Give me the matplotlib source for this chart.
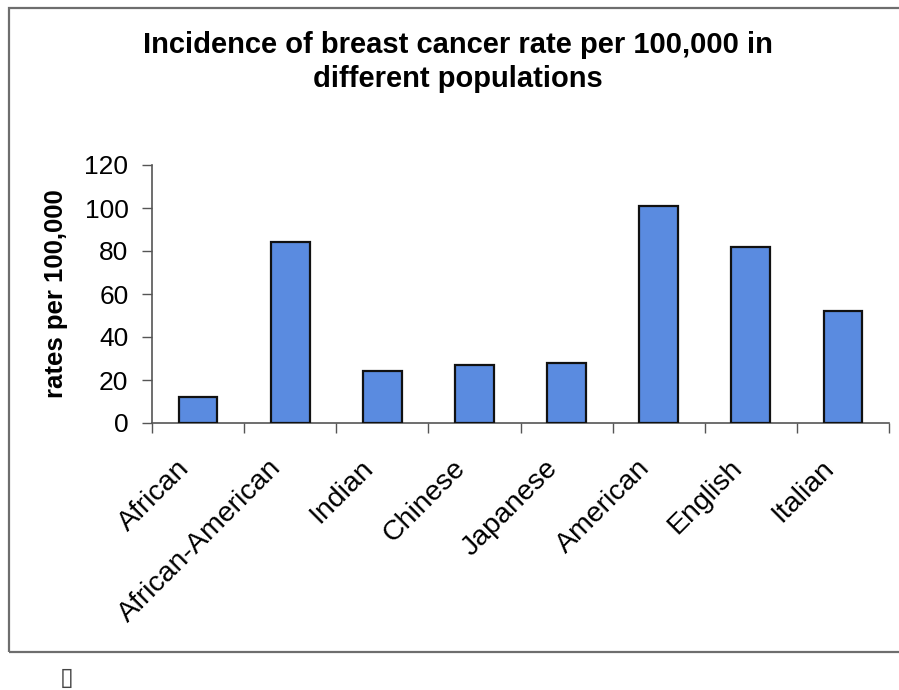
import matplotlib
matplotlib.use("Agg")
from matplotlib import pyplot as plt
from matplotlib.patches import Rectangle
import matplotlib.transforms as mtransforms
import numpy as np

# datos
poblaciones = ["African", "African-American", "Indian", "Chinese",
               "Japanese", "American", "English", "Italian"]
tasas = [12, 84, 24, 27, 28, 101, 82, 52]
yticks = [0, 20, 40, 60, 80, 100, 120]

plt.rcParams['font.family'] = ['Liberation Sans', 'DejaVu Sans']

fig = plt.figure(figsize=(8.99, 6.90), dpi=100)
W, H = 899, 690

# marco exterior (escaneo)
fig.patches.append(Rectangle((9 / W, 1 - 652 / H), 900 / W, (652 - 8) / H,
                             transform=fig.transFigure, fill=False,
                             edgecolor="#6e6e6e", linewidth=1.6))

ax = fig.add_axes([152 / W, 1 - 423 / H, (889 - 152) / W, (423 - 165) / H])

x = np.arange(len(poblaciones))
ax.bar(x, tasas, width=0.42, color="#5a8be0", edgecolor="#111111", linewidth=1.6, zorder=3)

ax.set_xlim(-0.5, len(poblaciones) - 0.5)
ax.set_ylim(0, 120)
ax.set_yticks(yticks)
ax.set_yticklabels([str(v) for v in yticks], fontsize=19)
ax.tick_params(axis='y', length=7, width=1, color="#555555", pad=10)

# marcas del eje x en los limites de categoria
ax.set_xticks(np.arange(len(poblaciones) + 1) - 0.5)
ax.set_xticklabels([])
ax.tick_params(axis='x', length=7, width=1, color="#555555", direction='out')
ax.set_xticks(x, minor=True)
ax.set_xticklabels(poblaciones, minor=True, rotation=45, ha='right',
                   rotation_mode='anchor', fontsize=20.5)
ax.tick_params(axis='x', which='minor', length=0, pad=23)
desplaza = mtransforms.ScaledTranslation(-22 / 100, 0, fig.dpi_scale_trans)
for lbl in ax.get_xticklabels(minor=True):
    lbl.set_transform(lbl.get_transform() + desplaza)

for s in ["top", "right"]:
    ax.spines[s].set_visible(False)
for s in ["left", "bottom"]:
    ax.spines[s].set_color("#555555")
    ax.spines[s].set_linewidth(1.2)

ax.set_ylabel("rates per 100,000", fontsize=18.5, fontweight='bold', labelpad=12)

fig.text(458 / W, 1 - 62 / H, "Incidence of breast cancer rate per 100,000 in\ndifferent populations",
         ha='center', va='center', fontsize=21, fontweight='bold', linespacing=1.3)

fig.text(67 / W, 1 - 678 / H, "\u25af", ha='center', va='center', fontsize=18,
         family=['DejaVu Sans'], color="#444444")

fig.savefig("out.png", dpi=100)
